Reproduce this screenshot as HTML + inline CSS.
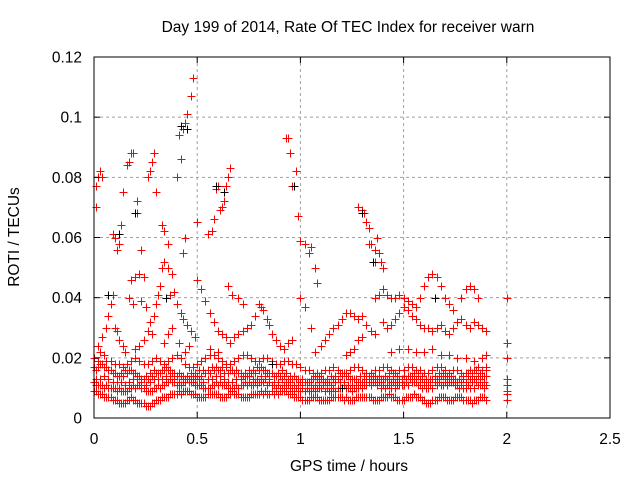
<!DOCTYPE html>
<html><head><meta charset="utf-8"><style>
body{margin:0;background:#fff}
svg{display:block;font-family:"Liberation Sans",sans-serif}
</style></head><body>
<svg id="chart" width="640" height="480" viewBox="0 0 640 480">
<rect width="640" height="480" fill="#fff"/>
<text x="348" y="32" font-size="15.5" text-anchor="middle" fill="#000">Day 199 of 2014, Rate Of TEC Index for receiver warn</text>
<text x="349" y="471" font-size="15.5" text-anchor="middle">GPS time / hours</text>
<text transform="translate(19,237) rotate(-90)" font-size="15.5" text-anchor="middle">ROTI / TECUs</text>
<g id="grid"></g>
<g id="marks"></g>
<g id="axes"></g>
</svg>
<script>
const xTicks=[0,0.5,1,1.5,2,2.5];
const xTickLabels=["0","0.5","1","1.5","2","2.5"];
const yTicks=[0,0.02,0.04,0.06,0.08,0.1,0.12];
const yTickLabels=["0","0.02","0.04","0.06","0.08","0.1","0.12"];
// dense band tracks: start time (h), step (h), ROTI values x1000
const bandStarts=[0,0,0,0,1.0,0.01,0.01,0.01,0.01];
const bandSteps=[0.02,0.02,0.02,0.02,0.02,0.02,0.02,0.02,0.02];
const bandValues=[
[9,8,8,7,7,6, 5,5,6,7,6,5,5,4,5,6, 6,7,7,8,8,8,9,9,8,7, 7,7,8,8,8,7,7,8,8,8,7,7,8,8,8,8,8,9,9,9, 9,8,8,7,7,6,6,7,7,6,6,6,7,7,7,7,6,6,7,7, 7,7,6,6,7,7,7,7,6,6,7,7,7,7,6,5,6,6,7,7,6,6,7,7,6,6,6,6,7,6],
[12,11,11,11,10,10, 10,9,9,10,10,11,10,9,9,10, 10,11,12,12,11,11,12,12,12,11, 11,10,10,11,11,11,11,10,10,10,11,11,11,12,12,12,11,11,10,10, 11,11,10,10,9,9,9,10,10,10,9,9,10,10,10,10,10,10,10,10, 11,11,12,12,11,11,10,10,11,11,11,12,12,11,11,10,10,11,11,12,12,12,11,11,10,10,10,11,11,11],
[17,17,18,17,16,15, 14,14,15,16,15,14,13,13,14,15, 15,16,16,15,14,14,13,13,14,14, 14,15,15,16,16,17,17,16,15,15,14,14,15,15,16,16,15,15,14,14, 14,13,13,13,12,12,12,13,13,13,12,12,13,13,14,14,13,13,12,12, 13,13,14,14,13,13,12,12,13,14,14,14,13,13,12,12,13,13,14,14,13,13,12,12,12,13,13,14,14,14],
[20,19,18,19,19,18, 18,17,18,19,20,19,18,18,19,20, 19,18,19,20,21,20,18,17,17,18, 19,20,21,21,20,19,18,18,19,20,21,21,20,19,19,20,20,19,18,18, 19,19,18,18],
[17,16,16,15,15,15,16,16,17,16,15,15,16,17,17,16,15,15,16,16,17,17,16,15,16,16,17,17,16,16,15,15,16,17,17,16,15,16,16,15,15,16,16,17,16,16],
[9,8,7,7,6,6, 5,5,6,6,5,5,4,4,5,6, 7,7,8,8,9,9,9,8,8,7, 7,8,8,8,7,7,8,9,8,7,7,7,8,8,9,9,8,8,8,9, 9,8,7,7,6,6,7,7,6,6,6,7,7,7,6,6,6,7,7,7, 7,6,6,7,7,8,7,6,6,7,7,8,7,6,5,5,6,7,7,6,6,7,7,6,6,5,6,7,7],
[11,11,10,10,10,9, 9,9,10,11,11,10,9,9,10,11, 11,12,13,12,11,12,13,12,11,11, 10,10,11,12,12,11,10,10,11,11,12,12,11,11,12,13,12,11,11,10, 10,10,9,9,10,10,9,9,10,11,10,9,9,10,11,10,9,10,11,11, 12,12,11,10,10,11,12,11,11,12,13,12,11,10,10,11,12,12,11,11,12,11,10,10,11,12,12,11,10],
[16,18,17,16,15,14, 15,16,16,15,14,13,14,15,16,15, 16,17,16,15,15,14,14,15,15,16, 16,16,17,17,16,15,15,16,16,15,15,16,16,17,17,16,15,14,15,16, 15,14,14,13,13,12,13,14,14,13,13,14,14,15,15,14,13,13,14,14, 14,14,13,13,14,15,15,14,13,13,14,15,15,14,13,13,14,15,15,14,14,13,13,14,15,15,16,15,14],
[13,13,14,13,12,12, 12,11,12,13,13,12,11,12,13,13, 13,14,14,13,12,13,14,14,13,13, 12,13,13,14,14,13,12,12,13,13,14,14,13,13,14,14,13,12,12,13, 12,12,11,11,11,10,11,11,12,12,11,11,12,12,12,11,11,11,12,12, 13,13,12,12,13,13,14,13,12,12,13,13,14,13,12,12,13,13,14,13,12,12,13,13,14,14,13,13,12]
];
// sparse points [time h, ROTI x1000]
const sparsePoints=[
[0.01,77],[0.02,80],[0.03,82],[0.04,80],[0.01,70],
[0.09,61],[0.1,60],[0.11,56],[0.12,58],[0.13,64],[0.14,75],[0.16,84],[0.17,85],[0.18,88],[0.19,88],[0.21,72],[0.21,68],
[0.23,56],[0.24,47],[0.26,80],[0.27,82],[0.28,85],[0.29,88],[0.3,75],
[0.33,64],[0.34,62],[0.36,58],[0.36,50],[0.38,48],[0.4,80],[0.41,94],[0.43,96],[0.44,98],[0.45,101],[0.47,107],[0.48,113],[0.42,86],[0.44,60],[0.43,55],
[0.5,65],[0.55,61],[0.57,62],[0.58,66],[0.59,76],[0.6,77],[0.62,70],[0.63,72],[0.64,77],[0.65,80],[0.66,83],[0.61,69],
[0.93,93],[0.94,93],[0.95,88],[0.96,77],[0.97,77],[0.98,82],[0.99,67],[1.0,59],[1.02,58],[1.04,55],[1.05,57],[1.07,50],[1.08,45],
[1.28,70],[1.3,69],[1.31,68],[1.32,65],[1.33,63],[1.34,58],[1.36,56],[1.37,60],[1.38,55],[1.39,52],[1.4,50],[1.36,52],[1.33,58],
[0.02,24],[0.04,27],[0.06,30],[0.07,34],[0.08,38],[0.09,41],[0.1,30],[0.11,29],[0.12,26],[0.14,24],[0.15,22],[0.05,21],[0.03,22],
[0.18,46],[0.2,47],[0.22,48],[0.17,40],[0.19,38],[0.23,39],[0.25,37],[0.27,32],[0.29,34],[0.3,38],[0.31,41],[0.32,44],[0.33,50],[0.34,52],[0.26,29],[0.28,28],[0.24,26],[0.22,24],[0.2,23],
[0.35,40],[0.37,41],[0.39,42],[0.4,38],[0.42,35],[0.43,33],[0.45,31],[0.47,29],[0.49,27],[0.38,30],[0.36,28],[0.34,25],[0.41,25],[0.44,22],[0.46,24],
[0.5,46],[0.52,43],[0.54,39],[0.56,35],[0.58,32],[0.6,29],[0.62,28],[0.64,27],[0.66,25],[0.68,27],[0.7,28],[0.72,29],[0.74,30],[0.76,31],[0.78,34],[0.8,38],[0.81,37],[0.82,36],[0.84,33],[0.85,31],[0.86,28],[0.88,26],[0.9,24],[0.92,23],[0.94,25],[0.96,26],[0.65,44],[0.67,41],[0.7,40],[0.72,38],[0.56,23],[0.58,21],[0.6,22],
[1.0,40],[1.02,37],[1.05,30],[1.07,22],[1.1,24],[1.12,26],[1.14,28],[1.16,30],[1.18,31],[1.2,33],[1.22,35],[1.24,35],[1.26,34],[1.28,33],[1.3,34],[1.32,31],[1.34,29],[1.36,28],[1.22,21],[1.24,22],[1.26,23],[1.28,26],[1.3,27],
[1.36,40],[1.38,41],[1.4,43],[1.42,41],[1.44,40],[1.46,40],[1.48,41],[1.5,40],[1.52,39],[1.54,38],[1.56,37],[1.58,40],[1.6,44],[1.62,47],[1.64,48],[1.66,47],[1.68,44],[1.7,40],[1.72,38],[1.74,36],[1.78,40],[1.8,43],[1.82,44],[1.84,43],[1.86,40],
[1.4,32],[1.42,30],[1.44,31],[1.46,33],[1.48,35],[1.5,37],[1.52,36],[1.54,34],[1.56,33],[1.58,31],[1.6,30],[1.62,30],[1.64,29],[1.66,30],[1.68,31],[1.7,29],[1.72,28],[1.74,30],[1.76,32],[1.78,33],[1.8,31],[1.82,30],[1.84,32],[1.86,31],[1.88,30],[1.9,29],
[1.44,22],[1.48,23],[1.52,23],[1.56,22],[1.6,22],[1.64,23],[1.68,21],[1.72,21],[1.76,20],[1.8,20],[1.84,19],[1.88,20],[1.9,21],[1.9,17],
[2.0,40],[2.0,25],[2.0,20],[2.0,13],[2.0,11],[2.0,9],[2.0,8],[2.0,6]
];
const blackPoints=[[0.07,41],[0.35,40],[0.42,97],[0.59,77],[0.63,75],[1.3,68],[1.35,52],[1.65,40],[0.97,77],[0.2,68],[0.12,61],[0.86,18],[1.2,10],[0.45,96]];

const X0=94,X1=610,Y0=418,Y1=57;
const xMin=0,xMax=2.5,yMin=0,yMax=0.12;
function sx(v){return X0+(v-xMin)/(xMax-xMin)*(X1-X0);}
function sy(v){return Y0-(v-yMin)/(yMax-yMin)*(Y0-Y1);}
const NS="http://www.w3.org/2000/svg";
function mk(tag,attrs,parent){const e=document.createElementNS(NS,tag);for(const k in attrs)e.setAttribute(k,attrs[k]);parent.appendChild(e);return e;}
const grid=document.getElementById('grid'),axes=document.getElementById('axes'),marks=document.getElementById('marks');
xTicks.forEach((t,i)=>{
  const x=sx(t);
  if(i>0&&i<xTicks.length-1){
    const g=mk('line',{x1:x,x2:x,y1:Y1,y2:Y0,stroke:'#a0a0a0','stroke-dasharray':'3,3','stroke-width':1},grid);
    
    
  }
  mk('line',{x1:x,x2:x,y1:Y0,y2:Y0-6,stroke:'#000'},axes);
  mk('line',{x1:x,x2:x,y1:Y1,y2:Y1+6,stroke:'#000'},axes);
  const tl=mk('text',{x:x,y:444,'font-size':15.5,'text-anchor':'middle'},axes);
  tl.textContent=xTickLabels[i];
  
  
});
yTicks.forEach((t,i)=>{
  const y=sy(t);
  if(i>0&&i<yTicks.length-1){
    const g=mk('line',{x1:X0,x2:X1,y1:y,y2:y,stroke:'#a0a0a0','stroke-dasharray':'3,3','stroke-width':1},grid);
    
    
  }
  mk('line',{x1:X0,x2:X0+6,y1:y,y2:y,stroke:'#000'},axes);
  mk('line',{x1:X1,x2:X1-6,y1:y,y2:y,stroke:'#000'},axes);
  const tl=mk('text',{x:82,y:y+5.5,'font-size':15.5,'text-anchor':'end'},axes);
  tl.textContent=yTickLabels[i];
  
  
});
const frame=mk('rect',{x:X0,y:Y1,width:X1-X0,height:Y0-Y1,fill:'none',stroke:'#000','stroke-width':1},axes);



let dRed='',dBlack='';
function plus(t,v){const x=Math.round(sx(t))+0.5,y=Math.round(sy(v/1000))+0.5;return `M${x-4} ${y}H${x+4}M${x} ${y-4}V${y+4}`;}
bandValues.forEach((vals,b)=>{vals.forEach((v,i)=>{dRed+=plus(bandStarts[b]+i*bandSteps[b],v);});});
sparsePoints.forEach(p=>{dRed+=plus(p[0],p[1]);});
blackPoints.forEach(p=>{dBlack+=plus(p[0],p[1]);});
const pr=mk('path',{d:dRed,stroke:'#ff0000','stroke-width':1,fill:'none'},marks);


const pb=mk('path',{d:dBlack,stroke:'#000','stroke-width':1,fill:'none'},marks);


</script>
</body></html>
